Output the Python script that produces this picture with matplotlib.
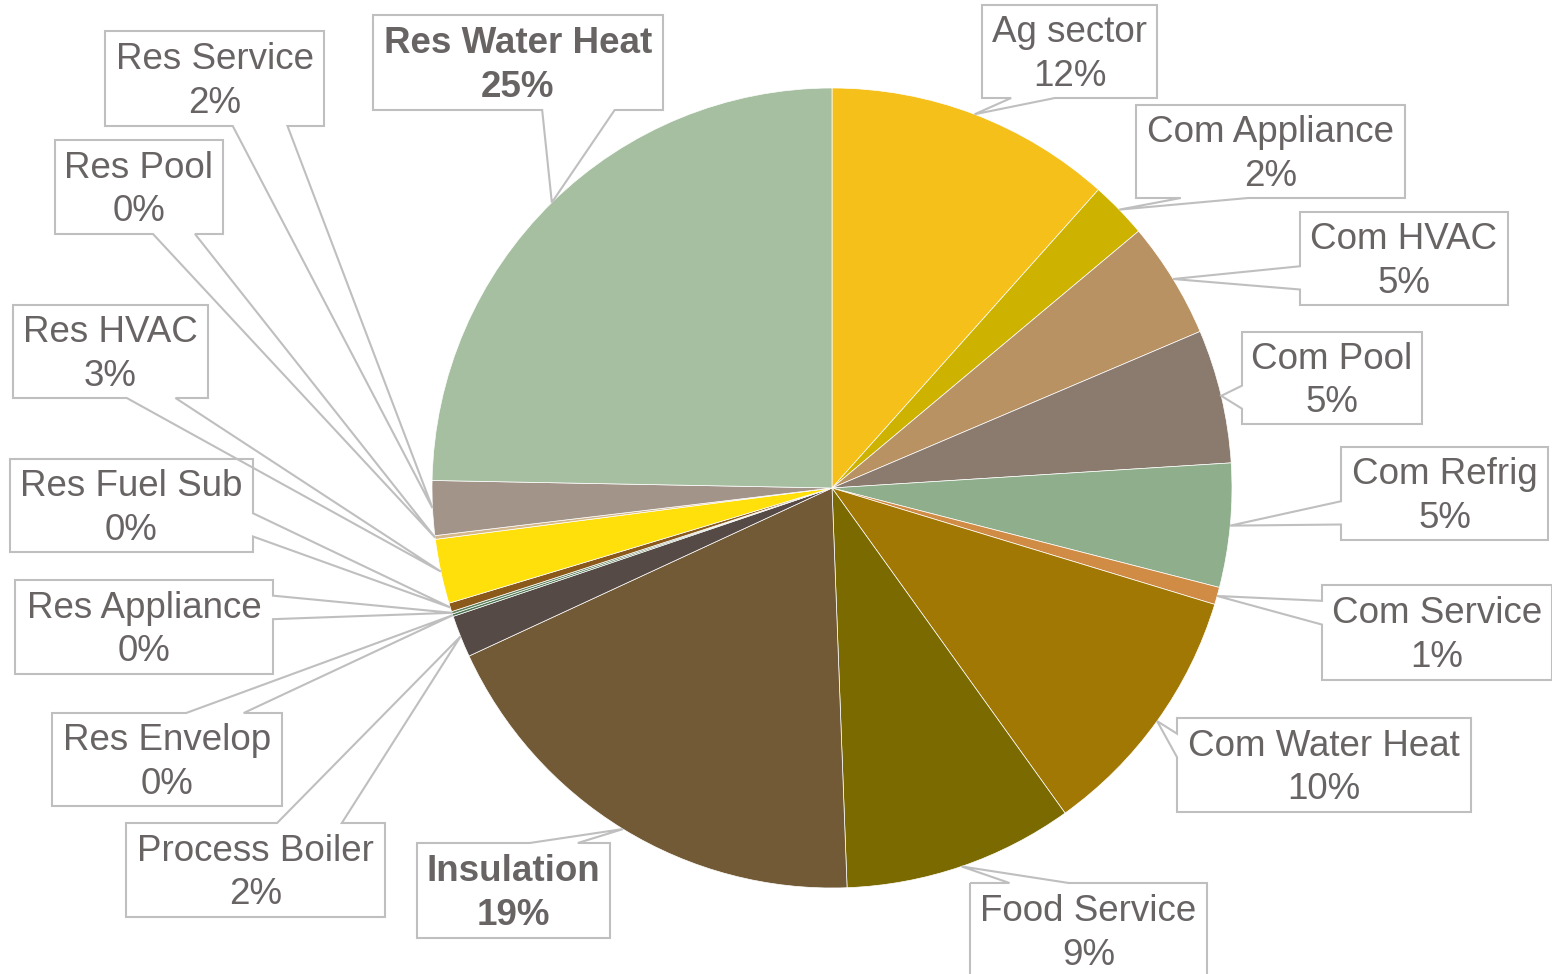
import matplotlib.pyplot as plt
from matplotlib.patches import Polygon, Rectangle
import numpy as np

# slice data, clockwise from 12 o'clock
labels = ["Ag sector", "Com Appliance", "Com HVAC", "Com Pool", "Com Refrig",
          "Com Service", "Com Water Heat", "Food Service", "Insulation",
          "Process Boiler", "Res Envelop", "Res Appliance", "Res Fuel Sub",
          "Res HVAC", "Res Pool", "Res Service", "Res Water Heat"]
shares = [11.6, 2.3, 4.7, 5.4, 5.0, 0.7, 10.4, 9.3, 18.7,
          1.7, 0.1, 0.1, 0.35, 2.6, 0.15, 2.2, 24.7]
colors = ["#F5C01A", "#CDB300", "#B89262", "#8B7A6E", "#8FAE8C",
          "#D08B45", "#A07803", "#7A6A00", "#725A37",
          "#554A45", "#4E7552", "#5E7F5A", "#8B5A1B",
          "#FFE00A", "#D5B88A", "#A39489", "#A6BFA1"]
bold = ["Res Water Heat", "Insulation"]

# label boxes (left, top, right, bottom) in pixels from top-left
boxes = {
    "Ag sector": (982, 5, 1157, 98),
    "Com Appliance": (1136, 105, 1405, 198),
    "Com HVAC": (1300, 212, 1508, 305),
    "Com Pool": (1242, 332, 1422, 424),
    "Com Refrig": (1341, 447, 1548, 540),
    "Com Service": (1322, 585, 1552, 680),
    "Com Water Heat": (1177, 718, 1471, 812),
    "Food Service": (970, 883, 1207, 978),
    "Insulation": (417, 843, 610, 938),
    "Process Boiler": (126, 823, 385, 917),
    "Res Envelop": (52, 713, 282, 806),
    "Res Appliance": (15, 580, 273, 674),
    "Res Fuel Sub": (10, 459, 253, 552),
    "Res HVAC": (13, 305, 208, 398),
    "Res Pool": (55, 140, 223, 234),
    "Res Service": (105, 31, 324, 126),
    "Res Water Heat": (373, 15, 663, 110),
}

W, H = 1552, 974
CX, CY, R = 832, 488, 400
TXT = "#696464"
EDGE = "#BFBFBF"

fig = plt.figure(figsize=(W / 100, H / 100), dpi=100)
ax = fig.add_axes([0, 0, 1, 1])
wedges, _ = ax.pie(shares, colors=colors, startangle=90, counterclock=False,
                   center=(CX, H - CY), radius=R,
                   wedgeprops=dict(edgecolor="white", linewidth=0.5))
ax.set_xlim(0, W)
ax.set_ylim(0, H)
ax.set_aspect("equal")
ax.axis("off")


def callout(l, t, r, b, tx, ty):
    # rectangle callout with a wedge tail, image coords (y down)
    w, h = r - l, b - t
    dx, dy = tx - (l + r) / 2, ty - (t + b) / 2
    if abs(dy) > abs(dx * h / w):
        xa = l + w * (7 if dx > 0 else 2) / 12
        xb = l + w * (10 if dx > 0 else 5) / 12
        if dy < 0:
            pts = [(l, t), (xa, t), (tx, ty), (xb, t), (r, t), (r, b), (l, b)]
        else:
            pts = [(l, t), (r, t), (r, b), (xb, b), (tx, ty), (xa, b), (l, b)]
    else:
        ya = t + h * (7 if dy > 0 else 2) / 12
        yb = t + h * (10 if dy > 0 else 5) / 12
        if dx > 0:
            pts = [(l, t), (r, t), (r, ya), (tx, ty), (r, yb), (r, b), (l, b)]
        else:
            pts = [(l, t), (r, t), (r, b), (l, b), (l, yb), (tx, ty), (l, ya)]
    return [(x, H - y) for x, y in pts]


total = sum(shares)
for wdg, name, val in zip(wedges, labels, shares):
    mid = np.deg2rad((wdg.theta1 + wdg.theta2) / 2)
    tx = CX + R * np.cos(mid)
    ty = CY - R * np.sin(mid)
    l, t, r, b = boxes[name]
    ax.add_patch(Rectangle((l, H - b), r - l, b - t, facecolor="white",
                           edgecolor="none", zorder=3, clip_on=False))
    ax.add_patch(Polygon(callout(l, t, r, b, tx, ty), closed=True,
                         facecolor="none", edgecolor=EDGE, linewidth=1.5,
                         zorder=4, clip_on=False))
    pct = round(val / total * 100)
    ax.text((l + r) / 2, H - (t + b) / 2 - 3, f"{name}\n{pct}%",
            ha="center", va="center", fontsize=26.5, color=TXT,
            family="Liberation Sans", linespacing=1.3,
            fontweight="bold" if name in bold else "normal", zorder=5)

fig.savefig("out.png", dpi=100)
